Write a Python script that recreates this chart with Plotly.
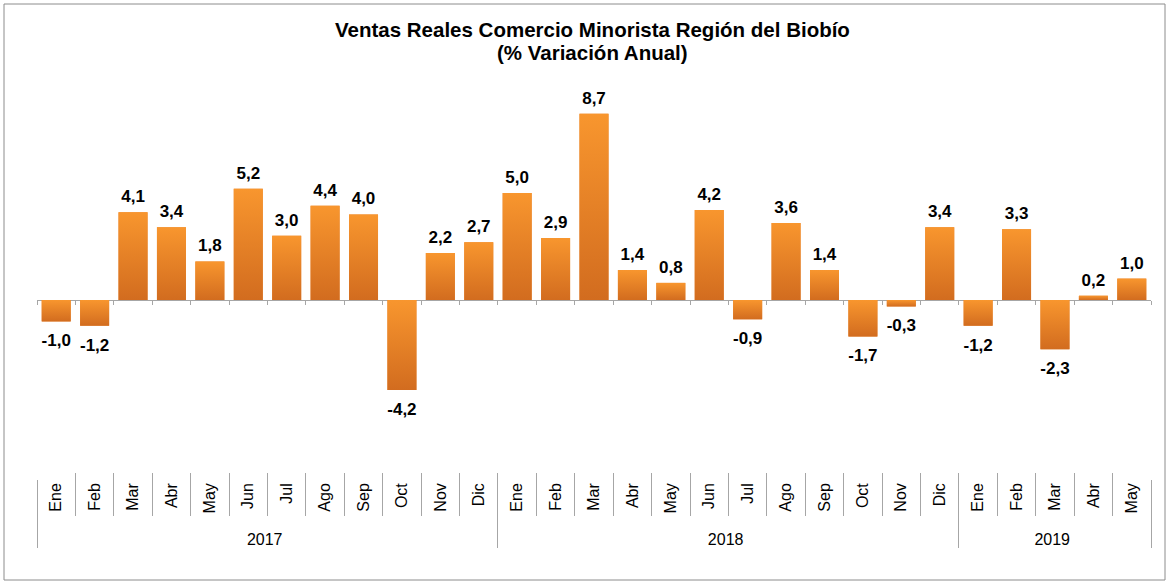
import plotly.graph_objects as go

years = ["2017"] * 12 + ["2018"] * 12 + ["2019"] * 5
months = ["Ene", "Feb", "Mar", "Abr", "May", "Jun", "Jul", "Ago", "Sep", "Oct", "Nov", "Dic",
          "Ene", "Feb", "Mar", "Abr", "May", "Jun", "Jul", "Ago", "Sep", "Oct", "Nov", "Dic",
          "Ene", "Feb", "Mar", "Abr", "May"]
values = [-1.0, -1.2, 4.1, 3.4, 1.8, 5.2, 3.0, 4.4, 4.0, -4.2, 2.2, 2.7,
          5.0, 2.9, 8.7, 1.4, 0.8, 4.2, -0.9, 3.6, 1.4, -1.7, -0.3, 3.4,
          -1.2, 3.3, -2.3, 0.2, 1.0]
title_lines = ["Ventas Reales Comercio Minorista Región del Biobío", "(% Variación Anual)"]

W, H = 1170, 586
L, R, T, B = 37, 19, 90, 36
pw, ph = W - L - R, H - T - B
ymin, ymax = -8.08, 9.81
lab_top = 473  # pixel where category area begins
ydom0 = (H - B - lab_top) / ph
grey = "#A6A6A6"
FONT = "Liberation Sans, Arial"
BARGAP = 0.245
LIGHT, DARK = "#F8962E", "#D26C1F"
n = len(values)
idx = list(range(n))
bounds = [i - 0.5 for i in range(n + 1)]


def py(pix):
    return (H - B - pix) / ph


def px(pix):
    return (pix - L) / pw


fig = go.Figure()
fig.add_trace(go.Bar(
    x=[years, months], y=values,
    marker=dict(color="#E8822A", line=dict(width=0)),
    hoverinfo="skip",
))
# vertical gradient overlay for each bar (same geometry as the bars)
hw = (1 - BARGAP) / 2
for i, v in zip(idx, values):
    fig.add_trace(go.Scatter(
        x=[i - hw, i + hw, i + hw, i - hw, i - hw], y=[0, 0, v, v, 0],
        xaxis="x2", mode="lines", line=dict(width=0), fill="toself",
        fillgradient=dict(type="vertical", colorscale=[[0, DARK], [1, LIGHT]]),
        hoverinfo="skip", showlegend=False,
    ))
# data labels: above positive bars, below negative bars
fig.add_trace(go.Scatter(
    x=idx, y=values, xaxis="x2", mode="markers+text",
    marker=dict(opacity=0, size=[7.6 if v >= 0 else 18 for v in values]),
    texttemplate="%{y:.1f}",
    textposition=["top center" if v >= 0 else "bottom center" for v in values],
    textfont=dict(family=FONT, size=17, color="black", weight="bold"),
    cliponaxis=False, hoverinfo="skip", showlegend=False,
))
# helper invisible trace so the separator axis is drawn
fig.add_trace(go.Scatter(x=idx, y=values, mode="none", xaxis="x3", hoverinfo="skip", showlegend=False))

zero_pos = ydom0 + (1 - ydom0) * (0 - ymin) / (ymax - ymin)
sep_pos = py(516)

fig.update_layout(
    width=W, height=H,
    margin=dict(l=L, r=R, t=T, b=B),
    paper_bgcolor="white", plot_bgcolor="white",
    separators=",.",
    bargap=BARGAP,
    showlegend=False,
    font=dict(family=FONT, size=16, color="black"),
    xaxis=dict(
        type="multicategory", anchor="free", position=py(479),
        showline=False, ticks="", showgrid=False,
        tickangle=-90, showdividers=True, dividercolor=grey, dividerwidth=1,
        tickfont=dict(size=16),
    ),
    xaxis2=dict(
        overlaying="x", anchor="free", position=zero_pos, range=[-0.5, n - 0.5],
        showline=False, showgrid=False, zeroline=False, showticklabels=False,
        ticks="outside", ticklen=4, tickcolor=grey, tickvals=bounds,
    ),
    xaxis3=dict(
        overlaying="x", anchor="free", position=sep_pos, range=[-0.5, n - 0.5],
        showline=False, showgrid=False, zeroline=False, showticklabels=False,
        ticks="inside", ticklen=43, tickcolor=grey, tickvals=bounds,
    ),
    yaxis=dict(
        domain=[ydom0, 1], range=[ymin, ymax], visible=True,
        showticklabels=False, showgrid=False, ticks="", showline=False,
        zeroline=True, zerolinecolor=grey, zerolinewidth=1,
    ),
    annotations=[
        dict(text=title_lines[0], xref="paper", yref="paper", x=px(592), y=py(29.7),
             xanchor="center", yanchor="middle", showarrow=False,
             font=dict(family=FONT, size=20.5, color="black", weight="bold")),
        dict(text=title_lines[1], xref="paper", yref="paper", x=px(592), y=py(52.7),
             xanchor="center", yanchor="middle", showarrow=False,
             font=dict(family=FONT, size=20.5, color="black", weight="bold")),
    ],
    shapes=[dict(
        type="rect", xref="paper", yref="paper",
        x0=px(4), x1=px(1165), y0=py(580), y1=py(4),
        line=dict(color="#8C8C8C", width=1), fillcolor="rgba(0,0,0,0)", layer="above",
    )],
)

fig.write_html("out.html", config={"displayModeBar": False},
               post_script="document.body.style.margin='0px';")
